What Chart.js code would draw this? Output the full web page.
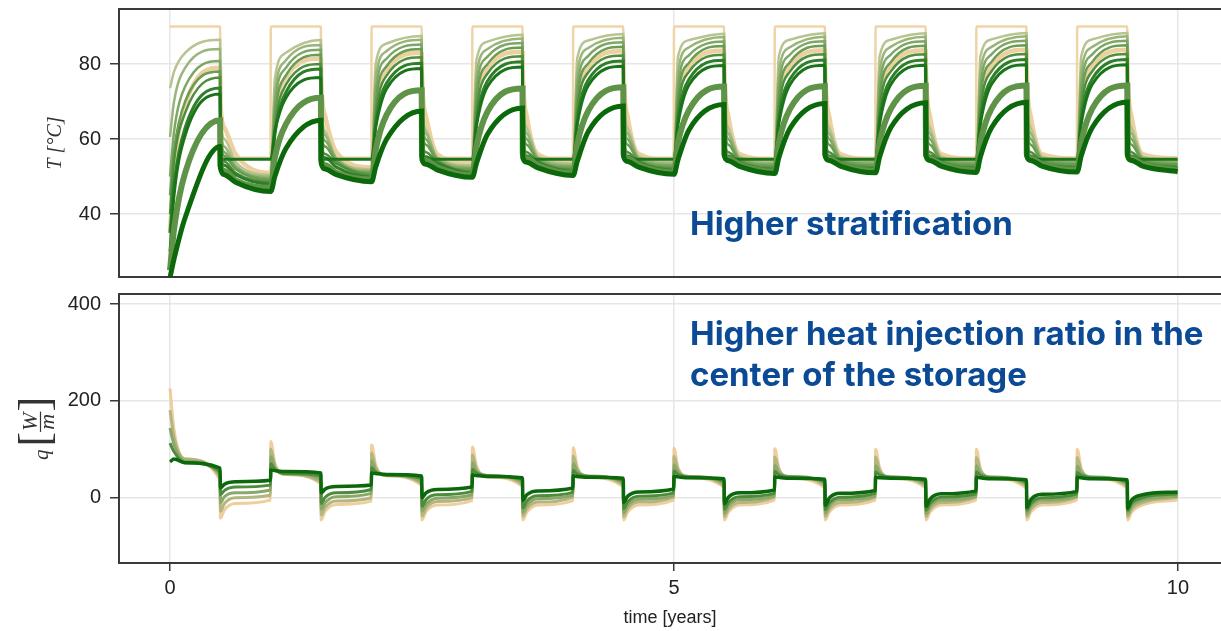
<!DOCTYPE html>
<html>
<head>
<meta charset="utf-8">
<script src="https://cdn.jsdelivr.net/npm/chart.js@4.4.1/dist/chart.umd.min.js"></script>
<style>
  body { margin: 0; background: #fff; }
  #wrap { position: relative; width: 1221px; height: 631px; overflow: hidden; }
  canvas { position: absolute; left: 0; }
  #tempChart { top: 0; }
  #fluxChart { top: 285px; }
</style>
</head>
<body>
<div id="wrap">
  <canvas id="tempChart" width="1221" height="285"></canvas>
  <canvas id="fluxChart" width="1221" height="346"></canvas>
</div>
<script>
// time grid: each year = injection half + extraction half, sampled at these offsets
const cycleYears = [0, 1, 2, 3, 4, 5, 6, 7, 8, 9];
const halfOffsets = [0, 0.04, 0.15, 0.497];

const xTicks = [0, 5, 10];
const tTicks = [40, 60, 80];
const qTicks = [0, 200, 400];

// rows per year: [inj start, +0.04, +0.15, end, ext start, +0.04, +0.15, end]
const supplyT = [
  [90, 90, 90, 90, 55, 55, 55, 55], [90, 90, 90, 90, 55, 55, 55, 55],
  [90, 90, 90, 90, 55, 55, 55, 55], [90, 90, 90, 90, 55, 55, 55, 55],
  [90, 90, 90, 90, 55, 55, 55, 55], [90, 90, 90, 90, 55, 55, 55, 55],
  [90, 90, 90, 90, 55, 55, 55, 55], [90, 90, 90, 90, 55, 55, 55, 55],
  [90, 90, 90, 90, 55, 55, 55, 55], [90, 90, 90, 90, 55, 55, 55, 55]
];
const t1 = [
  [73.6, 78, 83, 86.5, 66, 60, 54, 50.5], [50.5, 76, 83, 86.4, 71, 62, 55, 52],
  [52, 80, 85.5, 87.5, 72, 62.5, 55.2, 53], [53, 81, 86, 87.8, 72.5, 63, 55.3, 53.5],
  [53.5, 81.5, 86.3, 88, 73, 63, 55.3, 53.8], [53.8, 82, 86.4, 88.1, 73, 63, 55.3, 54],
  [54, 82, 86.5, 88.2, 73, 63, 55.3, 54.2], [54.2, 82, 86.5, 88.2, 73, 63, 55.3, 54.3],
  [54.3, 82, 86.6, 88.3, 73, 63, 55.3, 54.4], [54.4, 82, 86.6, 88.3, 73, 63, 55.3, 54.4]
];
const t2 = [
  [60.6, 70, 79, 84, 64, 58, 53, 50], [50, 72, 81, 85.1, 68, 61, 54.8, 51.6],
  [51.6, 76, 83.5, 86.5, 69, 61.5, 55, 52.6], [52.6, 77, 84, 86.8, 69.5, 61.5, 55, 53.1],
  [53.1, 77.5, 84.3, 87, 70, 61.5, 55, 53.4], [53.4, 78, 84.5, 87.2, 70, 61.5, 55, 53.6],
  [53.6, 78, 84.5, 87.3, 70, 61.5, 55, 53.8], [53.8, 78, 84.6, 87.3, 70, 61.5, 55, 53.9],
  [53.9, 78, 84.6, 87.4, 70, 61.5, 55, 54], [54, 78, 84.6, 87.4, 70, 61.5, 55, 54]
];
const t3 = [
  [50, 62, 74, 80.8, 62, 56.5, 52.5, 49.5], [49.5, 69, 79, 83.8, 65, 59.5, 54.5, 51.2],
  [51.2, 72.5, 81.5, 85.2, 66, 60, 54.6, 52.2], [52.2, 73.5, 82, 85.6, 66.5, 60, 54.6, 52.7],
  [52.7, 74, 82.2, 85.8, 67, 60, 54.6, 53], [53, 74.5, 82.4, 86, 67, 60, 54.6, 53.2],
  [53.2, 74.5, 82.5, 86.1, 67, 60, 54.6, 53.4], [53.4, 74.5, 82.5, 86.1, 67, 60, 54.6, 53.5],
  [53.5, 74.5, 82.6, 86.2, 67, 60, 54.6, 53.6], [53.6, 74.5, 82.6, 86.2, 67, 60, 54.6, 53.6]
];
const t4 = [
  [45, 57, 70, 78, 60, 55.5, 52, 49], [49, 66, 77, 82.5, 62, 58, 54, 50.8],
  [50.8, 69, 79.5, 84, 63, 58.5, 54.3, 51.8], [51.8, 70, 80, 84.4, 63.5, 58.5, 54.3, 52.3],
  [52.3, 70.5, 80.2, 84.6, 64, 58.5, 54.3, 52.6], [52.6, 71, 80.4, 84.8, 64, 58.5, 54.3, 52.8],
  [52.8, 71, 80.5, 84.9, 64, 58.5, 54.3, 53], [53, 71, 80.5, 84.9, 64, 58.5, 54.3, 53.1],
  [53.1, 71, 80.6, 85, 64, 58.5, 54.3, 53.2], [53.2, 71, 80.6, 85, 64, 58.5, 54.3, 53.2]
];
const t5 = [
  [35, 52, 69, 79, 70, 63, 56, 51], [51, 66, 76.5, 81.5, 76, 66, 56.5, 52.5],
  [52.5, 68.5, 78.5, 83, 77, 66, 56, 53.5], [53.5, 69, 79, 83.3, 78, 66, 56, 54],
  [54, 69.5, 79.2, 83.5, 78, 66, 56, 54.3], [54.3, 70, 79.4, 83.6, 78, 66, 56, 54.5],
  [54.5, 70, 79.5, 83.7, 78, 66, 56, 54.6], [54.6, 70, 79.5, 83.7, 78, 66, 56, 54.7],
  [54.7, 70, 79.6, 83.8, 78, 66, 56, 54.8], [54.8, 70, 79.6, 83.8, 78, 66, 56, 54.8]
];
const t6 = [
  [40, 54, 67, 76.4, 57, 54, 51, 48.5], [48.5, 63, 74.5, 80, 59, 56, 53.5, 50.3],
  [50.3, 66, 77, 81.8, 59.5, 56.5, 54, 51.3], [51.3, 67, 77.5, 82.1, 60, 56.5, 54, 51.8],
  [51.8, 67.5, 77.8, 82.3, 60, 56.5, 54, 52.1], [52.1, 68, 78, 82.5, 60, 56.5, 54, 52.3],
  [52.3, 68, 78, 82.6, 60, 56.5, 54, 52.5], [52.5, 68, 78, 82.6, 60, 56.5, 54, 52.6],
  [52.6, 68, 78.1, 82.7, 60, 56.5, 54, 52.7], [52.7, 68, 78.1, 82.7, 60, 56.5, 54, 52.7]
];
const t7 = [
  [35, 48, 63, 73.6, 55, 53, 50.5, 48], [48, 61, 72.5, 78.7, 56.5, 55, 52.5, 49.8],
  [49.8, 63.5, 75, 80.2, 57, 55.3, 53.5, 50.8], [50.8, 64, 75.5, 80.6, 57.5, 55.5, 53.7, 51.3],
  [51.3, 64.5, 75.8, 80.8, 57.5, 55.5, 53.7, 51.6], [51.6, 65, 76, 81, 57.5, 55.5, 53.7, 51.8],
  [51.8, 65, 76, 81.1, 57.5, 55.5, 53.7, 52], [52, 65, 76, 81.1, 57.5, 55.5, 53.7, 52.1],
  [52.1, 65, 76.1, 81.2, 57.5, 55.5, 53.7, 52.2], [52.2, 65, 76.1, 81.2, 57.5, 55.5, 53.7, 52.2]
];
const t8 = [
  [30, 45, 61, 72, 54.6, 54.6, 54.6, 54.6], [54.6, 62, 71, 76.4, 54.6, 54.6, 54.6, 54.6],
  [54.6, 63, 73.5, 78.8, 54.6, 54.6, 54.6, 54.6], [54.6, 63.5, 74, 79.2, 54.6, 54.6, 54.6, 54.6],
  [54.6, 63.8, 74.3, 79.4, 54.6, 54.6, 54.6, 54.6], [54.6, 64, 74.5, 79.6, 54.6, 54.6, 54.6, 54.6],
  [54.6, 64, 74.5, 79.7, 54.6, 54.6, 54.6, 54.6], [54.6, 64, 74.5, 79.7, 54.6, 54.6, 54.6, 54.6],
  [54.6, 64, 74.6, 79.8, 54.6, 54.6, 54.6, 54.6], [54.6, 64, 74.6, 79.8, 54.6, 54.6, 54.6, 54.6]
];
const t9 = [
  [25, 36, 51, 65, 53, 51.5, 49, 47], [47, 55, 64, 71, 54.5, 53, 51, 49.2],
  [49.2, 57, 66.5, 73, 55.5, 54.3, 52.5, 50.3], [50.3, 58, 67.3, 73.5, 56, 54.8, 53, 50.8],
  [50.8, 58.5, 67.6, 73.8, 56, 54.8, 53.1, 51.1], [51.1, 59, 67.8, 74, 56, 54.8, 53.2, 51.3],
  [51.3, 59, 68, 74.1, 56, 54.8, 53.3, 51.5], [51.5, 59, 68, 74.2, 56, 54.8, 53.3, 51.6],
  [51.6, 59, 68.1, 74.3, 56, 54.8, 53.3, 51.7], [51.7, 59, 68.1, 74.3, 56, 54.8, 53.3, 51.7]
];
const t10 = [
  [23, 28, 39, 58, 52.3, 50.5, 48.5, 46], [46, 50, 57.5, 65, 53.5, 52, 50.5, 48.6],
  [48.6, 52.5, 60, 67.5, 54.5, 53.3, 51.8, 49.8], [49.8, 53.5, 61.3, 68.3, 55, 53.8, 52.3, 50.3],
  [50.3, 54, 62, 68.8, 55.3, 54, 52.5, 50.6], [50.6, 54.5, 62.5, 69.2, 55.5, 54.2, 52.7, 50.8],
  [50.8, 55, 62.8, 69.5, 55.5, 54.3, 52.8, 51], [51, 55.2, 63, 69.7, 55.5, 54.3, 52.8, 51.1],
  [51.1, 55.3, 63, 69.8, 55.5, 54.3, 52.8, 51.2], [51.2, 55.5, 63.1, 69.9, 55.5, 54.3, 52.8, 51.3]
];

const q1 = [
  [226, 140, 80, 36, -42, -25, -12, -5], [116, 72, 48, 28, -46, -28, -14, -7],
  [109, 68, 45, 25, -46, -29, -15, -6], [105, 66, 43, 23, -46, -30, -15, -6],
  [103, 64, 42, 22, -46, -30, -15, -5], [102, 63, 41, 21, -46, -30, -15, -5],
  [101, 62, 40, 20, -46, -30, -15, -5], [100, 62, 40, 20, -46, -30, -15, -5],
  [100, 61, 40, 19, -46, -30, -15, -5], [100, 61, 40, 19, -46, -30, -15, -5]
];
const q2 = [
  [181, 125, 80, 42, -28, -12, 0, 5], [100, 66, 48, 32, -36, -20, -7, 0],
  [92, 62, 46, 29, -38, -22, -8, 0], [88, 60, 45, 27, -38, -23, -9, 1],
  [86, 59, 44, 26, -39, -23, -9, 1], [85, 58, 43, 25, -39, -24, -10, 1],
  [84, 58, 43, 25, -39, -24, -10, 1], [84, 57, 42, 24, -39, -24, -10, 1],
  [83, 57, 42, 24, -39, -24, -10, 1], [83, 57, 42, 24, -39, -24, -10, 1]
];
const q3 = [
  [144, 110, 76, 48, -11, 2, 10, 16], [85, 62, 50, 38, -24, -10, 2, 9],
  [76, 57, 47, 34, -28, -14, -1, 6], [72, 55, 46, 32, -30, -15, -2, 5],
  [70, 54, 45, 31, -31, -16, -3, 4], [68, 53, 44, 30, -32, -17, -4, 4],
  [67, 52, 44, 30, -32, -17, -4, 3], [66, 52, 43, 29, -33, -18, -5, 3],
  [66, 51, 43, 29, -33, -18, -5, 3], [65, 51, 43, 29, -33, -18, -5, 3]
];
const q4 = [
  [113, 95, 72, 54, 6, 15, 22, 26], [70, 58, 50, 45, -12, 1, 10, 17],
  [62, 53, 47, 40, -18, -4, 6, 13], [58, 51, 45, 38, -21, -7, 4, 11],
  [56, 49, 44, 36, -23, -9, 3, 10], [55, 48, 43, 35, -24, -10, 2, 9],
  [54, 47, 42, 34, -25, -11, 1, 9], [53, 47, 42, 34, -26, -12, 1, 8],
  [53, 46, 41, 33, -26, -12, 0, 8], [52, 46, 41, 33, -27, -12, 0, 8]
];
const q5 = [
  [74, 80, 72, 61, 20, 28, 33, 36], [57, 56, 54, 51, 10, 18, 23, 26],
  [51, 50, 48, 45, 0, 10, 17, 22], [47, 46, 44, 41, -6, 6, 14, 20],
  [45, 44, 42, 40, -10, 3, 12, 18], [44, 43, 41, 39, -13, 1, 10, 16],
  [43, 42, 40, 38, -16, -1, 9, 15], [42, 41, 40, 38, -18, -3, 8, 14],
  [42, 41, 39, 37, -20, -4, 7, 13], [42, 41, 39, 37, -22, -5, 6, 12]
];

const topNote = ['Higher stratification'];
const bottomNote = ['Higher heat injection ratio in the', 'center of the storage'];

function toPoints(rows) {
  const pts = [];
  rows.forEach((row, c) => {
    for (let p = 0; p < 2; p++) {
      halfOffsets.forEach((o, i) => pts.push({ x: cycleYears[c] + p * 0.5 + o, y: row[p * 4 + i] }));
    }
  });
  return pts;
}

function line(rows, color, width) {
  return {
    data: toPoints(rows),
    borderColor: color,
    borderWidth: width,
    pointRadius: 0,
    fill: false,
    cubicInterpolationMode: 'monotone'
  };
}

const frame = {
  id: 'frame',
  afterDatasetsDraw(chart) {
    const { ctx, chartArea: a } = chart;
    ctx.save();
    ctx.strokeStyle = '#3a3a3a';
    ctx.lineWidth = 2;
    ctx.beginPath();
    ctx.moveTo(a.right + 2, a.top);
    ctx.lineTo(a.left, a.top);
    ctx.lineTo(a.left, a.bottom);
    ctx.lineTo(a.right + 2, a.bottom);
    ctx.stroke();
    ctx.restore();
  }
};

function note(lines, baseline) {
  return {
    id: 'note',
    afterDraw(chart) {
      const ctx = chart.ctx;
      ctx.save();
      ctx.fillStyle = '#0b4a94';
      ctx.font = 'bold 33px Inter';
      ctx.textAlign = 'left';
      ctx.textBaseline = 'alphabetic';
      lines.forEach((s, i) => ctx.fillText(s, 690, baseline + i * 41));
      ctx.restore();
    }
  };
}

// q [W/m] axis label with a stacked fraction, rotated like an axis title
const fluxTitle = {
  id: 'fluxTitle',
  afterDraw(chart) {
    const ctx = chart.ctx;
    const a = chart.chartArea;
    const serif = '"Liberation Serif", "DejaVu Serif", serif';
    ctx.save();
    ctx.translate(40, (a.top + a.bottom) / 2);
    ctx.rotate(-Math.PI / 2);
    ctx.fillStyle = '#333';
    ctx.strokeStyle = '#333';
    ctx.textBaseline = 'alphabetic';
    ctx.textAlign = 'left';
    const fq = 'italic 21px ' + serif, fb = '44px ' + serif, ff = 'italic 22px ' + serif;
    ctx.font = fq; const wq = ctx.measureText('q').width;
    ctx.font = fb; const wb = ctx.measureText('[').width;
    ctx.font = ff; const wf = Math.max(ctx.measureText('W').width, ctx.measureText('m').width) + 2;
    const total = wq + 3 + wb + wf + wb;
    let u = -total / 2;
    ctx.font = fq; ctx.fillText('q', u, 8); u += wq + 3;
    ctx.font = fb; ctx.fillText('[', u, 9); u += wb;
    ctx.font = ff;
    ctx.textAlign = 'center';
    ctx.fillText('W', u + wf / 2, -3);
    ctx.fillText('m', u + wf / 2, 14);
    ctx.lineWidth = 1.2;
    ctx.beginPath(); ctx.moveTo(u, 0.5); ctx.lineTo(u + wf, 0.5); ctx.stroke();
    u += wf;
    ctx.textAlign = 'left';
    ctx.font = fb; ctx.fillText(']', u, 9);
    ctx.restore();
  }
};

const tickFont = { family: '"Liberation Sans", Arial, sans-serif', size: 20 };
const gridCol = '#e6e6e6';

function xAxis(showLabels) {
  return {
    type: 'linear',
    min: -0.506,
    max: 10.427,
    afterBuildTicks: s => { s.ticks = xTicks.map(v => ({ value: v })); },
    afterFit: s => { s.height = showLabels ? 68 : 8; s.paddingLeft = 0; s.paddingRight = 0; },
    grid: { color: gridCol, lineWidth: 1.5, drawTicks: showLabels, tickLength: 8, tickColor: '#3a3a3a' },
    border: { display: false },
    ticks: { display: showLabels, font: tickFont, color: '#222', padding: 5, maxRotation: 0 },
    title: {
      display: showLabels,
      text: 'time [years]',
      font: { family: '"Liberation Sans", Arial, sans-serif', size: 18 },
      color: '#222',
      padding: { top: 0, bottom: 2 }
    }
  };
}

function yAxis(min, max, ticks, title, titlePad) {
  return {
    min: min,
    max: max,
    afterBuildTicks: s => { s.ticks = ticks.map(v => ({ value: v })); },
    afterFit: s => { s.width = 119; s.paddingTop = 0; s.paddingBottom = 0; },
    grid: { color: gridCol, lineWidth: 1.5, tickLength: 9, tickColor: '#3a3a3a' },
    border: { display: false },
    ticks: { font: tickFont, color: '#222', padding: 9 },
    title: {
      display: title !== null,
      text: title || '',
      font: { family: '"Liberation Serif", "DejaVu Serif", serif', size: 20, style: 'italic' },
      color: '#333',
      padding: { top: titlePad, bottom: 0 }
    }
  };
}

const common = {
  responsive: false,
  animation: false,
  devicePixelRatio: 1,
  layout: { padding: { top: 9, left: 0, right: 0, bottom: 0 } },
  plugins: { legend: { display: false }, tooltip: { enabled: false } }
};

new Chart(document.getElementById('tempChart'), {
  type: 'line',
  data: {
    datasets: [
      line(t10, '#0b690b', 5),
      line(t9, '#5f9347', 6),
      line(t8, '#1a741a', 3),
      line(t7, '#2f7f28', 3),
      line(t6, '#4f8e3c', 2.5),
      line(t4, '#6a9c52', 2.5),
      line(t3, '#7fa764', 2.5),
      line(t2, '#9ab57a', 2.5),
      line(t1, '#b8c48f', 2.5),
      line(t5, '#ecd0a0', 4.5),
      line(supplyT, '#efd4a8', 2.5)
    ]
  },
  options: Object.assign({}, common, {
    scales: {
      x: xAxis(false),
      y: yAxis(23.2, 94.7, tTicks, 'T [°C]', 44)
    }
  }),
  plugins: [frame, note(topNote, 235)]
});

new Chart(document.getElementById('fluxChart'), {
  type: 'line',
  data: {
    datasets: [
      line(q5, '#0b690b', 3.5),
      line(q4, '#4f8b3c', 3),
      line(q3, '#8aa86a', 3),
      line(q2, '#b3b77f', 3),
      line(q1, 'rgba(236,196,140,0.85)', 3)
    ]
  },
  options: Object.assign({}, common, {
    scales: {
      x: xAxis(true),
      y: yAxis(-135, 421, qTicks, null, 0)
    }
  }),
  plugins: [frame, note(bottomNote, 60), fluxTitle]
});
</script>
</body>
</html>
